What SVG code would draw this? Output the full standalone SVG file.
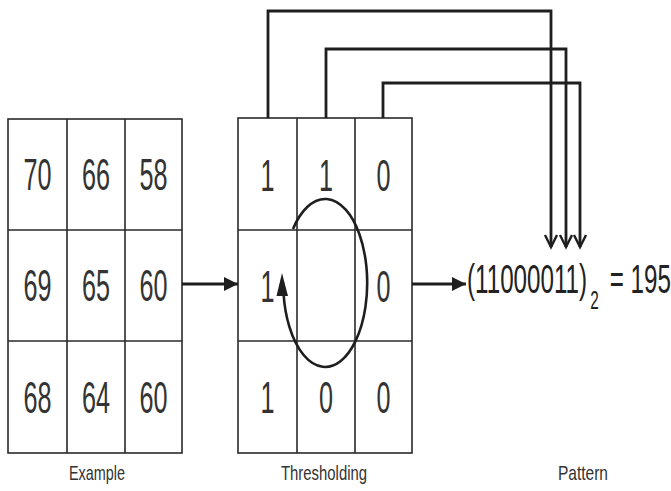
<svg xmlns="http://www.w3.org/2000/svg" width="671" height="491" viewBox="0 0 671 491">
  <style>
    .grid { fill: none; stroke: #2a2a2a; stroke-width: 1.6; }
    .num { font-family: "Liberation Sans", Arial, sans-serif; font-size: 45px; fill: #333; text-anchor: middle; }
    .lbl { font-family: "Liberation Sans", Arial, sans-serif; font-size: 21px; fill: #333; text-anchor: middle; }
    .res { font-family: "Liberation Sans", Arial, sans-serif; font-size: 41px; fill: #222; }
    .wire { fill: none; stroke: #1e1e1e; stroke-width: 2.8; }
    .flow { fill: none; stroke: #1e1e1e; stroke-width: 3; }
  </style>
  <defs>
    <marker id="solid" markerUnits="userSpaceOnUse" markerWidth="16" markerHeight="16" refX="14" refY="7" orient="auto">
      <path d="M0,0 L14,7 L0,14 z" fill="#1e1e1e"/>
    </marker>
    <marker id="open" markerUnits="userSpaceOnUse" markerWidth="16" markerHeight="16" refX="13" refY="7" orient="auto">
      <path d="M1,1 L13,7 L1,13" fill="none" stroke="#1e1e1e" stroke-width="2.4"/>
    </marker>
  </defs>
  <rect width="671" height="491" fill="#fff"/>

  <!-- input neighbourhood -->
  <g id="example">
    <rect class="grid" x="8" y="119" width="174" height="334"/>
    <path class="grid" d="M67,119 V453 M125,119 V453 M8,230 H182 M8,341 H182"/>
    <text class="num" x="37.5" y="190" textLength="28" lengthAdjust="spacingAndGlyphs">70</text>
    <text class="num" x="96" y="190" textLength="28" lengthAdjust="spacingAndGlyphs">66</text>
    <text class="num" x="153.5" y="190" textLength="28" lengthAdjust="spacingAndGlyphs">58</text>
    <text class="num" x="37.5" y="301" textLength="28" lengthAdjust="spacingAndGlyphs">69</text>
    <text class="num" x="96" y="301" textLength="28" lengthAdjust="spacingAndGlyphs">65</text>
    <text class="num" x="153.5" y="301" textLength="28" lengthAdjust="spacingAndGlyphs">60</text>
    <text class="num" x="37.5" y="413" textLength="28" lengthAdjust="spacingAndGlyphs">68</text>
    <text class="num" x="96" y="413" textLength="28" lengthAdjust="spacingAndGlyphs">64</text>
    <text class="num" x="153.5" y="413" textLength="28" lengthAdjust="spacingAndGlyphs">60</text>
    <text class="lbl" x="97" y="480" textLength="56" lengthAdjust="spacingAndGlyphs">Example</text>
  </g>

  <!-- thresholded neighbourhood -->
  <g id="thresholding">
    <rect class="grid" x="238" y="118" width="174" height="335"/>
    <path class="grid" d="M297,118 V453 M355,118 V453 M238,230 H412 M238,341 H412"/>
    <text class="num" x="267.5" y="191" textLength="14" lengthAdjust="spacingAndGlyphs">1</text>
    <text class="num" x="326" y="191" textLength="14" lengthAdjust="spacingAndGlyphs">1</text>
    <text class="num" x="383.5" y="191" textLength="14" lengthAdjust="spacingAndGlyphs">0</text>
    <text class="num" x="267.5" y="302" textLength="14" lengthAdjust="spacingAndGlyphs">1</text>
    <text class="num" x="383.5" y="302" textLength="14" lengthAdjust="spacingAndGlyphs">0</text>
    <text class="num" x="267.5" y="413" textLength="14" lengthAdjust="spacingAndGlyphs">1</text>
    <text class="num" x="326" y="413" textLength="14" lengthAdjust="spacingAndGlyphs">0</text>
    <text class="num" x="383.5" y="413" textLength="14" lengthAdjust="spacingAndGlyphs">0</text>
    <text class="lbl" x="324" y="480" textLength="86" lengthAdjust="spacingAndGlyphs">Thresholding</text>
    <!-- clockwise reading order -->
    <path d="M293,229 A42,84 0 1 1 283.5,293" fill="none" stroke="#1e1e1e" stroke-width="2.6"/>
    <path d="M282,273 L288,296 L276.5,296 z" fill="#1e1e1e"/>
  </g>

  <!-- resulting code, set in a condensed face -->
  <g id="pattern">
    <text class="res" transform="translate(467,293) scale(0.59,1)"><tspan x="0" y="0">(11000011)</tspan><tspan x="209" y="16" font-size="26">2</tspan><tspan x="242" y="0">= 195</tspan></text>
    <text class="lbl" x="583" y="480" textLength="50" lengthAdjust="spacingAndGlyphs">Pattern</text>
  </g>

  <g id="connectors">
    <line class="flow" x1="182" y1="284" x2="238" y2="284" marker-end="url(#solid)"/>
    <line class="flow" x1="412" y1="284" x2="466" y2="284" marker-end="url(#solid)"/>
    <path class="wire" d="M268,118 V11 H551 V247" marker-end="url(#open)"/>
    <path class="wire" d="M326,118 V49 H566 V247" marker-end="url(#open)"/>
    <path class="wire" d="M383,118 V83 H580 V247" marker-end="url(#open)"/>
  </g>
</svg>
